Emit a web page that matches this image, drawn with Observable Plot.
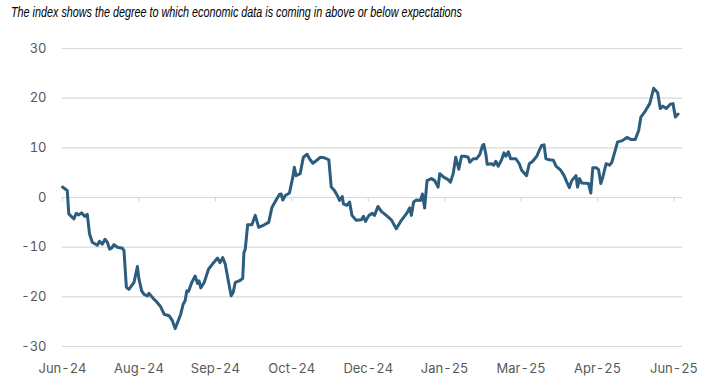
<!DOCTYPE html>
<html><head><meta charset="utf-8">
<script src="https://cdn.jsdelivr.net/npm/d3@7"></script>
<script src="https://cdn.jsdelivr.net/npm/@observablehq/plot@0.6"></script>
<style>
body{margin:0;background:#fff;}
#title{height:28px;box-sizing:border-box;padding:4px 0 0 11px;line-height:16px;white-space:nowrap;}
#title span{display:inline-block;font:italic 14px "Liberation Sans Narrow","Arial Narrow","Liberation Sans",Arial,sans-serif;color:#000;transform-origin:0 50%;}
</style></head><body>
<div id="title"><span>The index shows the degree to which economic data is coming in above or below expectations</span></div>
<div id="chart"></div>
<script>
// day offsets from the first observation (mid-June 2024)
const days = [0,2.8,3.7,6.7,8.1,9.6,11.2,13.2,14.6,15.9,17.5,20.5,21.8,23.4,25.0,26.4,27.7,28.9,30.3,32.3,35.2,36.2,37.6,39.1,42.1,44.1,45.0,46.6,48.0,50.0,50.9,53.9,54.9,57.8,59.8,62.7,64.7,66.3,67.7,69.6,71.0,72.2,73.2,74.2,76.1,78.1,79.5,80.4,81.4,83.4,86.0,88.3,90.3,91.3,92.7,94.3,95.8,97.8,99.3,100.5,101.7,104.0,106.1,106.8,107.6,109.0,111.5,113.5,115.5,118.8,121.4,123.3,126.1,127.7,128.7,129.7,131.2,133.6,135.6,136.5,137.5,139.9,141.8,144.0,145.4,147.4,149.7,151.7,154.2,156.8,158.2,160.1,162.1,163.1,164.7,165.4,167.4,169.0,170.4,172.9,175.9,177.2,178.4,180.4,182.4,183.7,185.7,187.7,190.6,193.6,196.5,199.5,202.4,204.4,205.4,206.7,208.3,210.7,211.9,213.2,214.6,217.2,219.1,221.1,222.1,224.4,227.0,228.4,230.0,231.5,233.3,234.9,236.8,238.8,239.8,241.8,243.7,245.7,247.3,248.0,249.2,250.0,252.6,253.9,255.1,256.5,258.5,259.9,261.0,262.5,263.8,266.9,268.9,270.3,273.2,274.8,276.8,279.2,280.7,282.1,283.5,284.6,286.6,289.0,290.5,293.3,295.3,296.9,298.4,299.8,300.8,302.3,303.2,304.4,305.7,309.7,311.0,312.2,314.2,315.6,316.9,318.1,320.0,322.1,323.4,325.4,326.8,329.3,332.3,334.6,337.2,339.2,340.5,343.1,345.7,347.0,348.0,350.4,351.9,353.5,355.5,357.8,359.4,360.8,362.4];
const values = [2.1,1.4,-3.3,-4.3,-3.2,-3.5,-3.1,-3.8,-3.4,-7.3,-9.0,-9.6,-8.8,-9.4,-8.4,-9.0,-10.4,-10.2,-9.5,-10.0,-10.2,-10.7,-18.1,-18.5,-17.1,-13.9,-16.4,-18.8,-19.5,-19.8,-19.3,-20.5,-20.8,-22.0,-23.5,-23.8,-24.8,-26.4,-25.2,-23.5,-21.5,-20.8,-18.8,-18.9,-17.1,-15.8,-17.3,-16.8,-18.2,-17.1,-14.4,-13.4,-12.6,-12.2,-13.1,-12.1,-13.4,-17.1,-19.8,-19.1,-17.1,-16.8,-16.3,-11.1,-10.4,-5.5,-5.5,-3.6,-6.0,-5.5,-5.0,-2.0,-0.3,0.6,0.7,-0.5,0.4,0.9,4.1,6.1,4.4,4.8,8.1,8.7,7.8,6.9,7.5,8.1,8.0,7.6,2.1,1.4,0.2,-0.6,0.2,-1.3,-1.6,-0.9,-3.6,-4.6,-4.5,-3.8,-4.8,-3.6,-3.2,-3.6,-1.8,-2.8,-3.6,-4.5,-6.3,-4.6,-3.3,-2.1,-3.6,-0.9,-0.5,-0.6,0.7,-2.1,3.4,3.8,3.4,2.1,4.8,4.1,3.6,3.1,4.8,8.1,5.7,8.3,8.3,8.1,7.1,7.8,7.8,8.7,10.5,10.7,8.8,6.7,6.8,6.5,7.3,6.3,7.6,9.0,8.3,9.2,7.8,7.8,6.8,5.5,4.4,6.8,7.3,8.3,9.5,10.5,10.6,7.8,7.6,7.5,6.3,5.5,4.4,3.1,2.0,3.4,3.8,4.4,2.1,3.8,2.9,2.8,0.9,6.0,6.0,5.6,2.8,4.1,6.8,6.5,7.1,9.5,11.2,11.4,12.1,11.7,11.7,13.5,16.2,17.4,18.9,20.6,22.0,21.1,17.9,18.4,17.9,18.8,18.9,16.2,16.8];
const tickDays = [0,45,90,135,180,225,270,315,360];
const tickLabels = ["Jun-24","Aug-24","Sep-24","Oct-24","Dec-24","Jan-25","Mar-25","Apr-25","Jun-25"];
const yTicks = [-30,-20,-10,0,10,20,30];

const data = days.map((d,i)=>({day:d, value:values[i]}));

const chart = Plot.plot({
  width:724, height:356,
  marginTop:20, marginBottom:38, marginLeft:62, marginRight:42,
  x:{domain:[0,365]},
  y:{domain:[-30,30]},
  style:{fontFamily:"Inter, 'Open Sans', sans-serif", fontSize:"13px", color:"#595959", background:"#fff"},
  marks:[
    Plot.ruleY(yTicks,{stroke:"#d9d9d9",strokeWidth:1.2}),
    Plot.ruleX(tickDays,{y1:0,y2:-0.9,stroke:"#d9d9d9",strokeWidth:1.2}),
    Plot.axisY({ticks:yTicks,tickSize:0,tickPadding:16,label:null,tickFormat:d=>String(d)}),
    Plot.axisX({ticks:tickDays,tickSize:0,tickPadding:17,label:null,tickFormat:d=>tickLabels[tickDays.indexOf(d)]}),
    Plot.line(data,{x:"day",y:"value",stroke:"#2b5d7e",strokeWidth:3,strokeLinejoin:"round",strokeLinecap:"round"})
  ]
});
document.getElementById("chart").appendChild(chart);

// fit the title to the reference width (~451px)
const t = document.querySelector("#title span");
const w = t.getBoundingClientRect().width;
if (w > 0 && Math.abs(w - 451) > 6) t.style.transform = `scaleX(${451 / w})`;
</script>
</body></html>
